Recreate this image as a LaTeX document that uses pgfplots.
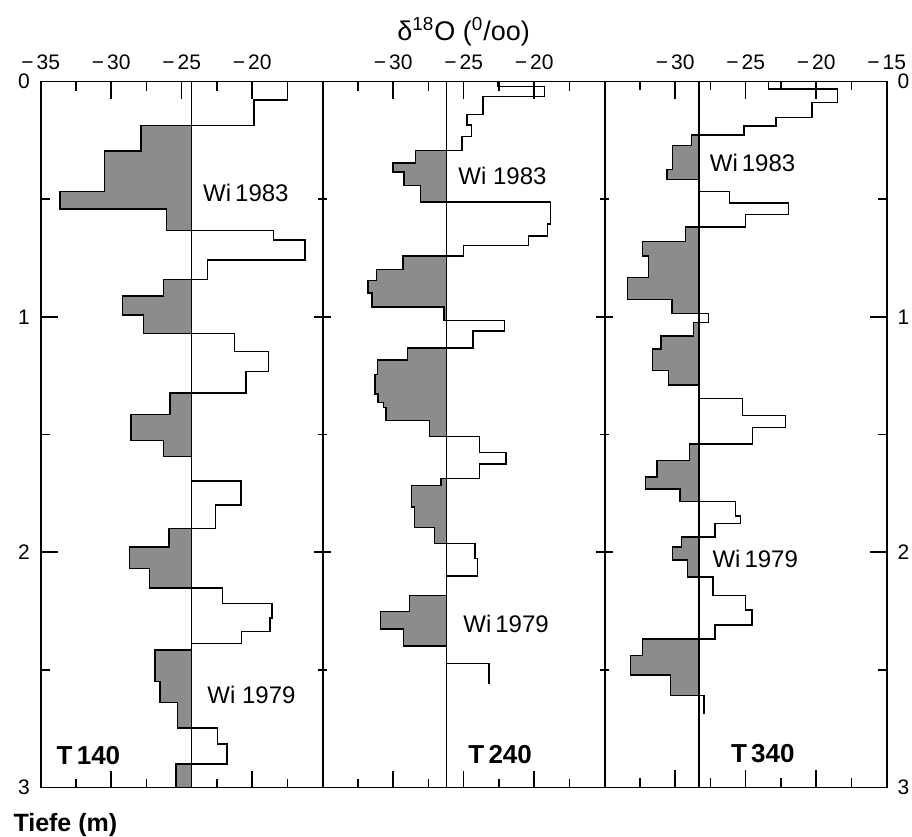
\documentclass[border=0pt]{standalone}
\usepackage{fontspec}
\setmainfont{Liberation Sans}
\usepackage{pgfplots}
\usepackage{pgfplotstable}
\pgfplotsset{compat=1.18}

% delta-18O profiles: value v (permil) from depth d (m) down to the next row
\pgfplotstableread{
v d
-24.3 0
-17.5 0
-19.87 0.078
-27.89 0.187
-30.49 0.295
-33.63 0.467
-26.06 0.542
-18.5 0.632
-16.26 0.674
-23.16 0.759
-26.3 0.841
-29.21 0.912
-27.72 0.992
-21.27 1.071
-18.86 1.148
-20.44 1.232
-25.83 1.324
-28.6 1.416
-26.3 1.526
-24.3 1.594
-20.8 1.698
-22.6 1.799
-25.9 1.900
-28.7 1.978
-27.3 2.070
-22.1 2.152
-18.6 2.218
-18.75 2.279
-20.75 2.338
-24.3 2.388
-26.9 2.416
-26.55 2.550
-25.3 2.638
-22.45 2.748
-21.8 2.815
-25.4 2.900
-25.4 3.0
-24.3 3.0
}\tA

\pgfplotstableread{
v d
-26.2 0
-22.57 0
-19.26 0.022
-23.63 0.064
-24.77 0.139
-24.46 0.184
-25.12 0.234
-28.43 0.294
-30.01 0.347
-29.24 0.385
-28.05 0.443
-18.86 0.512
-19.07 0.605
-20.39 0.657
-25.0 0.696
-29.31 0.742
-31.2 0.799
-31.79 0.845
-31.5 0.898
-26.4 0.958
-22.1 1.015
-24.34 1.060
-29.0 1.133
-31.13 1.184
-31.3 1.244
-31.08 1.328
-30.7 1.364
-30.5 1.385
-27.41 1.441
-23.87 1.508
-22.0 1.576
-23.87 1.625
-26.6 1.686
-28.7 1.717
-28.5 1.808
-27.05 1.896
-24.2 1.964
-24.0 2.027
-26.2 2.101
-28.85 2.183
-30.9 2.253
-29.25 2.327
-26.2 2.398
-23.2 2.473
-23.2 2.561
}\tB

\pgfplotstableread{
v d
-28.3 0
-23.40 0
-18.50 0.032
-20.31 0.088
-22.86 0.153
-25.12 0.189
-28.86 0.227
-30.19 0.273
-30.59 0.375
-28.3 0.417
-26.14 0.467
-21.95 0.516
-25.0 0.566
-29.29 0.619
-32.33 0.679
-31.9 0.742
-33.38 0.834
-30.24 0.926
-27.62 0.987
-28.69 1.025
-31.0 1.081
-31.62 1.137
-30.47 1.229
-28.3 1.289
-25.24 1.348
-22.19 1.420
-24.5 1.470
-29.0 1.540
-31.28 1.611
-32.1 1.681
-29.66 1.731
-25.74 1.785
-25.38 1.847
-27.17 1.879
-29.54 1.936
-30.19 1.978
-29.14 2.034
-27.33 2.105
-25.02 2.183
-24.54 2.246
-27.17 2.310
-32.33 2.369
-33.16 2.440
-30.33 2.522
-27.95 2.609
-27.95 2.689
}\tC

\newcommand{\m}[1]{−\kern1.5pt#1}

\pgfplotsset{
  panel/.style={
    scale only axis, width=141pt, height=353pt,
    xmin=-35, xmax=-15, ymin=0, ymax=3, y dir=reverse,
    clip mode=individual,
    xtick={-35,-30,-25,-20,-15},
    minor xtick={-32.5,-27.5,-22.5,-17.5},
    ytick={0,1,2,3}, minor ytick={0.5,1.5,2.5},
    xtick pos=both, xticklabel pos=upper, xtick align=inside,
    major tick length=8.5pt, minor tick length=4.5pt,
    tick style={black, line width=0.75pt},
    axis line style={line width=0.9pt},
    tick label style={font=\fontsize{10.5}{12}\selectfont, inner sep=1pt},
    xticklabel style={yshift=4.8pt},
  },
  prof/.style={black, line width=0.7pt, const plot mark right, mark=none},
  shade/.style={fill=black!45, draw=none, const plot mark right, mark=none},
}
\tikzset{
  lab/.style={anchor=west, inner sep=0pt, font=\fontsize{12}{14}\selectfont},
  tlab/.style={anchor=west, inner sep=0pt, font=\fontsize{13}{15}\selectfont\bfseries},
}

\begin{document}
\begin{tikzpicture}
\begin{axis}[panel, at={(0pt,0pt)},
  xticklabels={\m{35},\m{30},\m{25},\m{20},{}},
  ytick pos=left, ytick align=inside,
  yticklabels={\raisebox{-2pt}{0},1,2,3},
  yticklabel style={xshift=-4.3pt}]
\addplot[shade, x filter/.expression={min(x,-24.3)}] table[x=v,y=d] {\tA} -- cycle;
\addplot[prof] table[x=v,y=d] {\tA};
\addplot[black, line width=0.7pt] coordinates {(-24.3,0) (-24.3,3)};
\node[lab] at (axis cs:-23.5,0.475) {Wi\,1983};
\node[lab] at (axis cs:-23.2,2.606) {Wi 1979};
\node[tlab] at (axis cs:-33.9,2.864) {T\,140};
\node[anchor=north west, inner sep=0pt, xshift=-13.8pt, yshift=-12.5pt,
  font=\fontsize{12.5}{14}\selectfont\bfseries]
  at (rel axis cs:0,0) {Tiefe (m)};
\end{axis}

\begin{axis}[panel, at={(141pt,0pt)},
  xticklabels={{},\m{30},\m{25},\m{20},{}},
  ytick pos=both, ytick align=center, yticklabels={{},{},{},{}},
  title={δ\textsuperscript{18}O (\textsuperscript{0}/oo)},
  title style={at={(0.5,1)}, anchor=base, yshift=14.5pt, inner sep=0pt,
    font=\fontsize{13.5}{15}\selectfont}]
\addplot[shade, x filter/.expression={min(x,-26.2)}] table[x=v,y=d] {\tB} -- cycle;
\addplot[prof] table[x=v,y=d] {\tB};
\addplot[black, line width=0.7pt] coordinates {(-26.2,0) (-26.2,3)};
\node[lab] at (axis cs:-25.4,0.403) {Wi 1983};
\node[lab] at (axis cs:-25.05,2.304) {Wi\,1979};
\node[tlab] at (axis cs:-24.7,2.858) {T\,240};
\end{axis}

\begin{axis}[panel, at={(282pt,0pt)},
  xticklabels={{},\m{30},\m{25},\m{20},\m{15}},
  ytick pos=right, yticklabel pos=right, ytick align=inside,
  yticklabels={\raisebox{-2pt}{0},1,2,3}, yticklabel style={xshift=4.3pt}]
\addplot[shade, x filter/.expression={min(x,-28.3)}] table[x=v,y=d] {\tC} -- cycle;
\addplot[prof] table[x=v,y=d] {\tC};
\addplot[black, line width=0.7pt] coordinates {(-28.3,0) (-28.3,3)};
\node[lab] at (axis cs:-27.57,0.347) {Wi\,1983};
\node[lab] at (axis cs:-27.38,2.028) {Wi\,1979};
\node[tlab] at (axis cs:-26.07,2.856) {T\,340};
\end{axis}

\path (-20.35pt,-21.75pt) rectangle (435.65pt,393.75pt);
\end{tikzpicture}
\end{document}
